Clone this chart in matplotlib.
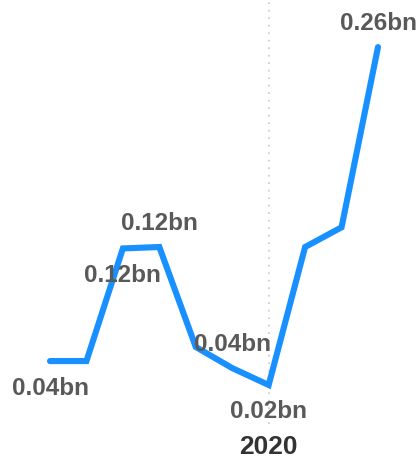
#!/usr/bin/env python3
"""Monthly value line chart (bn), with 2020 marker."""
import matplotlib
matplotlib.use('Agg')
import matplotlib.pyplot as plt

months = ["2019-07", "2019-08", "2019-09", "2019-10", "2019-11", "2019-12",
          "2020-01", "2020-02", "2020-03", "2020-04"]
values_bn = [0.040, 0.040, 0.120, 0.121, 0.050, 0.035, 0.023, 0.121, 0.135, 0.263]
label_text = ["0.04bn", None, "0.12bn", "0.12bn", None, "0.04bn", "0.02bn", None, None, "0.26bn"]
label_side = ["below", None, "below", "above", None, "above", "below", None, None, "above"]
year_ticks = ["2020"]

BLUE = '#1890ff'
GREY = '#595959'

plt.rcParams['font.family'] = ['Liberation Sans', 'DejaVu Sans']

fig = plt.figure(figsize=(4.19, 4.58), dpi=100)
ax = fig.add_axes([0, 0, 1, 1])
ax.axis('off')

xs = list(range(len(months)))
ax.plot(xs, values_bn, color=BLUE, lw=4.4, solid_capstyle='round', solid_joinstyle='miter', zorder=2)

# pixel-ish placement: index 0 at 50px, index 9 at 378px; value axis 1408 px per bn
px_per_idx = (378 - 50) / 9
ax.set_xlim(-50 / px_per_idx, 9 + (419 - 378) / px_per_idx)
ax.set_ylim(0.023 - 73 / 1408, 0.023 + 385 / 1408)

# year marker
yi = months.index("2020-01")
y_bottom = ax.get_ylim()[0] + (458 - 424) / 1408
ax.plot([yi, yi], [y_bottom, ax.get_ylim()[1]], color='#c8c8c8', lw=1.2,
        ls=(0, (1, 3.5)), zorder=1)
ax.annotate(year_ticks[0], (yi, ax.get_ylim()[0]), xytext=(0, 11), textcoords='offset pixels',
            ha='center', va='center', fontsize=19, fontweight='bold', color='#333333')

for x, v, t, s in zip(xs, values_bn, label_text, label_side):
    if t is None:
        continue
    dy = -27 if s == "below" else 24
    ax.annotate(t, (x, v), xytext=(0, dy), textcoords='offset pixels',
                ha='center', va='center', fontsize=17.5, fontweight='bold', color=GREY, zorder=3)

fig.savefig('out.png', dpi=100)
